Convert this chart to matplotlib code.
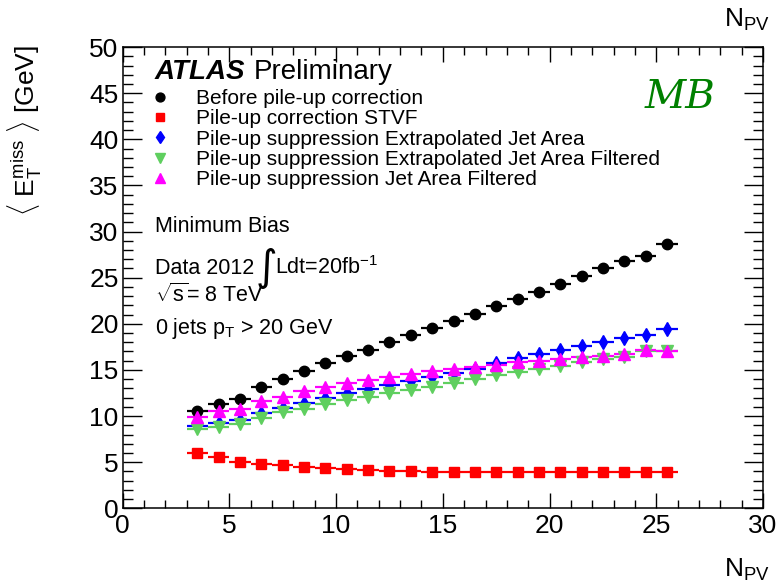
import numpy as np
import matplotlib
matplotlib.use("Agg")
import matplotlib.pyplot as plt
from matplotlib.lines import Line2D
from matplotlib.ticker import MultipleLocator

plt.rcParams['font.family'] = ['Liberation Sans', 'DejaVu Sans']
plt.rcParams['mathtext.fontset'] = 'custom'
plt.rcParams['mathtext.rm'] = 'Liberation Sans'
plt.rcParams['mathtext.it'] = 'Liberation Sans:italic'
plt.rcParams['mathtext.bf'] = 'Liberation Sans:bold'

# number of primary vertices (bin centres, bin width 1)
npv = np.arange(3.5, 26.0, 1.0)

met_before = [10.6, 11.3, 11.9, 13.1, 14.0, 14.9, 15.7, 16.5, 17.2, 18.0, 18.8, 19.5,
              20.3, 21.1, 21.9, 22.7, 23.5, 24.3, 25.2, 26.0, 26.8, 27.4, 28.7]
met_stvf = [5.95, 5.6, 4.98, 4.85, 4.65, 4.5, 4.37, 4.26, 4.15, 4.08, 4.0, 3.94,
            3.94, 3.92, 3.9, 3.9, 3.9, 3.9, 3.9, 3.9, 3.9, 3.9, 3.95]
met_extrap = [8.9, 9.3, 9.6, 10.3, 10.85, 11.45, 11.95, 12.5, 12.9, 13.4, 13.8, 14.2,
              14.7, 15.1, 15.7, 16.3, 16.7, 17.2, 17.6, 18.0, 18.5, 18.8, 19.45]
met_extrap_filt = [8.6, 8.85, 9.15, 9.8, 10.4, 10.8, 11.3, 11.7, 12.05, 12.45, 12.8, 13.15,
                   13.6, 14.0, 14.4, 14.8, 15.1, 15.45, 15.9, 16.2, 16.45, 17.0, 17.1]
met_jetarea_filt = [9.85, 10.5, 10.8, 11.6, 12.1, 12.7, 13.2, 13.55, 13.9, 14.27, 14.58, 14.85,
                    15.12, 15.36, 15.55, 15.83, 15.97, 16.15, 16.37, 16.48, 16.7, 17.17, 17.02]

labels = ["Before pile-up correction",
          "Pile-up correction STVF",
          "Pile-up suppression Extrapolated Jet Area",
          "Pile-up suppression Extrapolated Jet Area Filtered",
          "Pile-up suppression Jet Area Filtered"]
colors = ['black', '#ff0000', '#0000ff', '#5fcf5f', '#ff00ff']
markers = ['o', 's', 'd', 'v', '^']
msizes = [7.5, 7.5, 7, 8.5, 8.5]
series = [met_before, met_stvf, met_extrap, met_extrap_filt, met_jetarea_filt]

fig = plt.figure(figsize=(7.78, 5.86), dpi=100)
ax = fig.add_axes([0.1577, 0.1326, 0.823, 0.787])

handles = []
for y, c, m, ms, lab in zip(series, colors, markers, msizes, labels):
    ax.errorbar(npv, y, xerr=0.5, fmt=m, color=c, ms=ms, mec=c,
                elinewidth=1.6, capsize=0, linestyle='none')
    handles.append(Line2D([], [], marker=m, color=c, ms=ms * 0.85, linestyle='none'))

ax.set_xlim(0, 30)
ax.set_ylim(0, 50)
ax.xaxis.set_major_locator(MultipleLocator(5))
ax.xaxis.set_minor_locator(MultipleLocator(1))
ax.yaxis.set_major_locator(MultipleLocator(5))
ax.yaxis.set_minor_locator(MultipleLocator(1))
ax.tick_params(which='both', direction='in', top=True, right=True, width=1.0, labelsize=19)
ax.tick_params(axis='x', which='major', length=10.5, pad=4)
ax.tick_params(axis='x', which='minor', length=5.5)
ax.tick_params(axis='y', which='major', length=13.5, pad=3)
ax.tick_params(axis='y', which='minor', length=7)
for s in ax.spines.values():
    s.set_linewidth(1.1)

leg = ax.legend(handles, labels, loc='upper left', bbox_to_anchor=(0.02, 0.927),
                frameon=False, fontsize=15, handlelength=1.55, handletextpad=0.96,
                labelspacing=0.06, borderaxespad=0)

ax.text(0.05, 0.946, "ATLAS", transform=ax.transAxes, fontsize=20,
        fontweight='bold', fontstyle='italic', va='center')
ax.text(0.205, 0.946, "Preliminary", transform=ax.transAxes, fontsize=20, va='center')

ax.text(0.05, 0.612, "Minimum Bias", transform=ax.transAxes, fontsize=15.5, va='center')
ax.text(0.05, 0.521, "Data 2012", transform=ax.transAxes, fontsize=15.5, va='center')
ax.text(0.225, 0.522, "\u222b", transform=ax.transAxes, fontsize=30, family='DejaVu Sans',
        ha='center', va='center')
ax.text(0.238, 0.521, r"Ldt=20fb$^{\mathrm{-1}}$", transform=ax.transAxes,
        fontsize=15.5, va='center')
ax.text(0.05, 0.461, r"$\sqrt{\mathrm{s}}$= 8 TeV", transform=ax.transAxes,
        fontsize=15.5, va='center')
ax.text(0.05, 0.39, r"0 jets p$_{\mathrm{T}}$ > 20 GeV", transform=ax.transAxes,
        fontsize=15.5, va='center')

ax.text(0.87, 0.89, "MB", transform=ax.transAxes, fontsize=29, color='green',
        family='DejaVu Serif', fontstyle='italic', ha='center', va='center')

fig.text(25 / 778, 1 - 45 / 586, r"$\langle$ E$_{\mathrm{T}}^{\mathrm{miss}}$ $\rangle$ [GeV]",
         rotation=90, ha='center', va='top', fontsize=19)
fig.text(0.96, 1 - 570 / 586, r"N$_{\mathrm{PV}}$", ha='center', va='center', fontsize=19)
fig.text(0.96, 1 - 20 / 586, r"N$_{\mathrm{PV}}$", ha='center', va='center', fontsize=19)

fig.savefig("out.png", dpi=100)
